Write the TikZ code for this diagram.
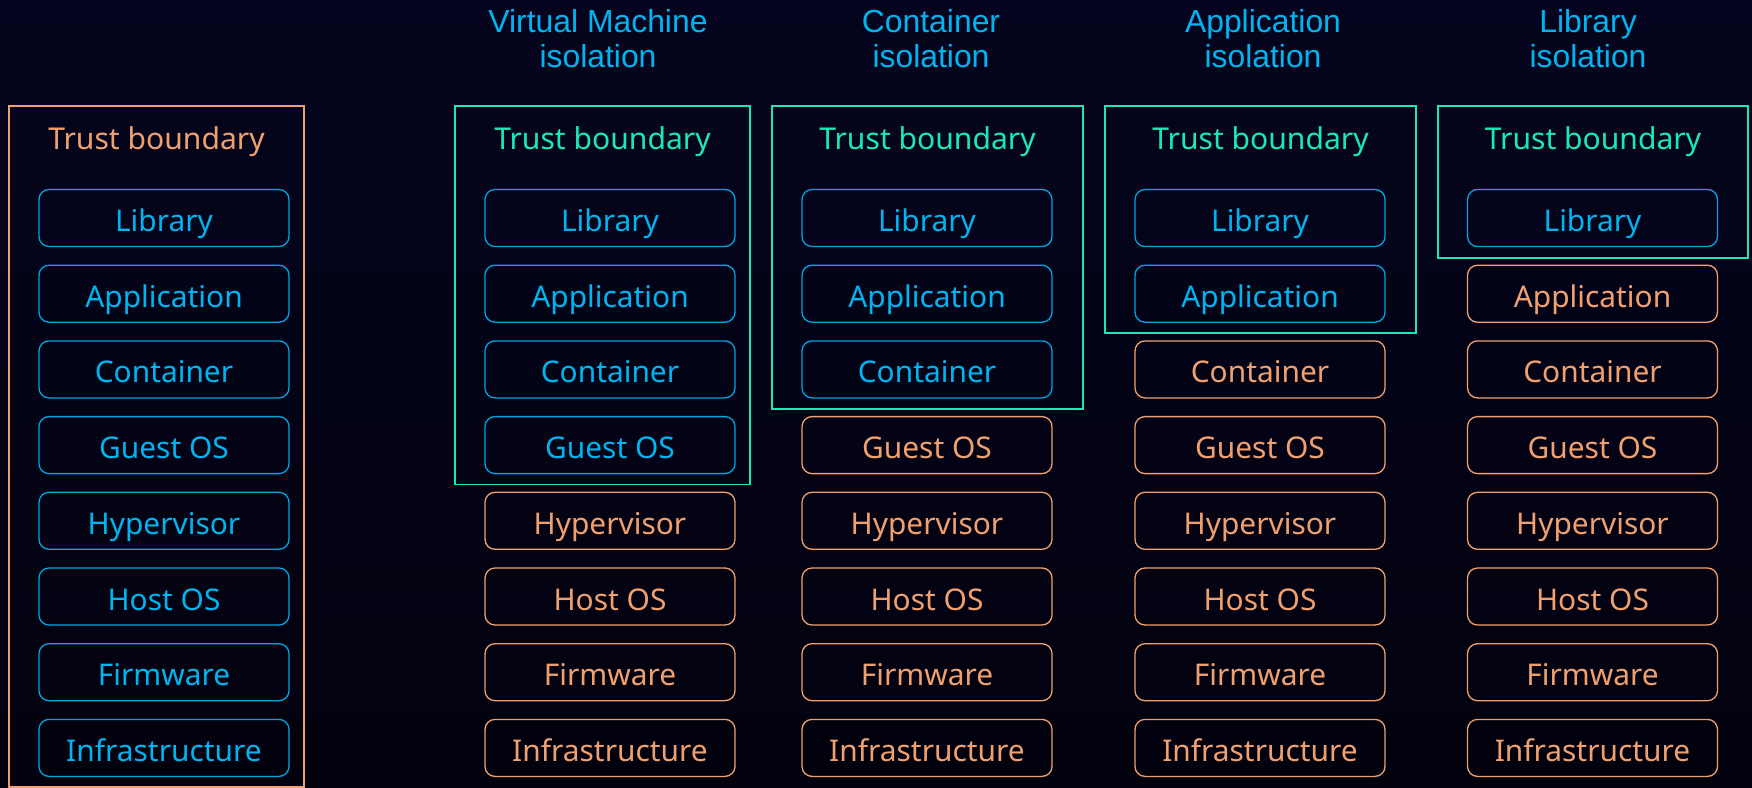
\documentclass[tikz,border=0pt]{standalone}
\usepackage{fontspec}
\setmainfont{Noto Sans}
\newfontfamily\hdrfont{Liberation Sans}
\definecolor{bgtop}{RGB}{4,4,30}
\definecolor{bgbot}{RGB}{2,2,14}
\definecolor{cblue}{RGB}{0,180,240}
\definecolor{cbluel}{RGB}{0,165,225}
\definecolor{cteal}{RGB}{25,232,185}
\definecolor{corange}{RGB}{240,160,110}
\tikzset{
  layer/.style={draw, rounded corners=10bp, line width=1.3bp, minimum width=250bp, minimum height=57bp,
     text height=27bp, text depth=0bp, inner sep=0bp, font=\fontsize{30}{36}\selectfont},
  inb/.style={layer, draw=cbluel, text=cblue},
  outb/.style={layer, draw=corange, text=corange},
  bound/.style={draw, line width=1.5bp, inner sep=0bp},
  btitle/.style={anchor=base, font=\fontsize{30.2}{36}\selectfont},
  hdr/.style={align=center, text=cblue, font=\hdrfont\fontsize{32}{35}\selectfont, inner sep=0bp}
}
\begin{document}
\begin{tikzpicture}[x=1bp,y=-1bp]
\useasboundingbox (0,0) rectangle (1752,788);
\shade[top color=bgtop, bottom color=bgbot] (0,0) rectangle (1752,788);
% headers
\node[hdr] (h2) at (598,39) {Virtual Machine\\isolation};
\node[hdr] (h3) at (931,39) {Container\\isolation};
\node[hdr] (h4) at (1263,39) {Application\\isolation};
\node[hdr] (h5) at (1588,39) {Library\\isolation};
% trust boundaries
\node[bound, draw=corange, minimum width=295bp, minimum height=681bp] (tb1) at (156.5,446.5) {};
\node[bound, draw=cteal, minimum width=295bp, minimum height=378.5bp] (tb2) at (602.5,295.25) {};
\node[bound, draw=cteal, minimum width=311bp, minimum height=303bp] (tb3) at (927.5,257.5) {};
\node[bound, draw=cteal, minimum width=311bp, minimum height=227bp] (tb4) at (1260.5,219.5) {};
\node[bound, draw=cteal, minimum width=310bp, minimum height=152bp] (tb5) at (1593,182) {};
\node[btitle, text=corange] (t1) at (156.5,149) {Trust boundary};
\node[btitle, text=cteal] (t2) at (602.5,149) {Trust boundary};
\node[btitle, text=cteal] (t3) at (927.5,149) {Trust boundary};
\node[btitle, text=cteal] (t4) at (1260.5,149) {Trust boundary};
\node[btitle, text=cteal] (t5) at (1593,149) {Trust boundary};
% layers
\foreach \lab [count=\i from 0] in {Library,Application,Container,Guest OS,Hypervisor,Host OS,Firmware,Infrastructure}{
  \pgfmathsetmacro{\yy}{218+75.7*\i}
  % column 1
  \node[inb] (c1-\i) at (164,\yy) {\lab};
  % column 2
  \ifnum\i<4 \node[inb] (c2-\i) at (610,\yy) {\lab};
  \else \node[outb] (c2-\i) at (610,\yy) {\lab}; \fi
  % column 3
  \ifnum\i<3 \node[inb] (c3-\i) at (927,\yy) {\lab};
  \else \node[outb] (c3-\i) at (927,\yy) {\lab}; \fi
  % column 4
  \ifnum\i<2 \node[inb] (c4-\i) at (1260,\yy) {\lab};
  \else \node[outb] (c4-\i) at (1260,\yy) {\lab}; \fi
  % column 5
  \ifnum\i<1 \node[inb] (c5-\i) at (1592.5,\yy) {\lab};
  \else \node[outb] (c5-\i) at (1592.5,\yy) {\lab}; \fi
}
\end{tikzpicture}
\end{document}
